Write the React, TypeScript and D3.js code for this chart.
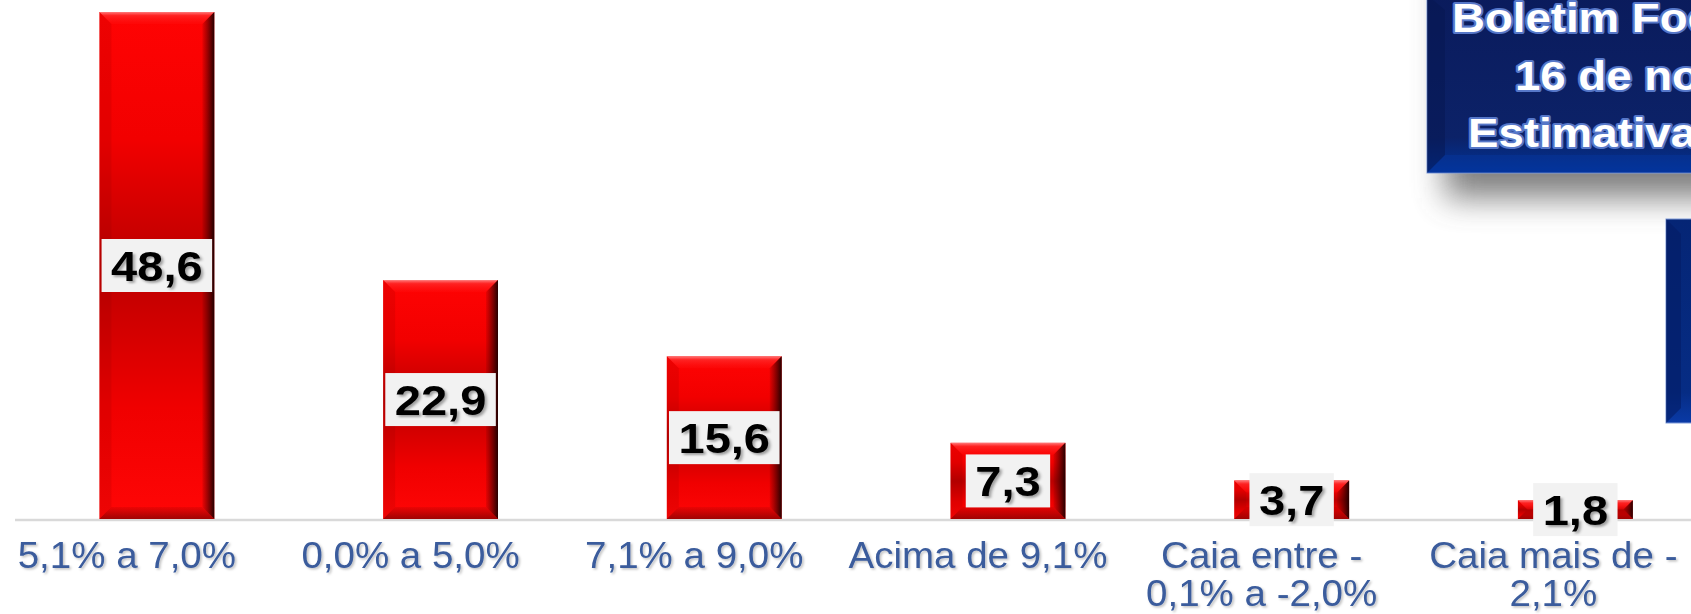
import React from 'react';
import * as d3 from 'd3';

// dados
const categorias = ['5,1% a 7,0%', '0,0% a 5,0%', '7,1% a 9,0%', 'Acima de 9,1%', 'Caia entre -0,1% a -2,0%', 'Caia mais de -2,1%'];
const rotulos = [['5,1% a 7,0%'], ['0,0% a 5,0%'], ['7,1% a 9,0%'], ['Acima de 9,1%'], ['Caia entre -', '0,1% a -2,0%'], ['Caia mais de -', '2,1%']];
const valores = [48.6, 22.9, 15.6, 7.3, 3.7, 1.8];
const tituloLinhas = ['Boletim Focus', '16 de novembro', 'Estimativa 2012'];

const W = 1691;
const H = 614;
const FONT = '"Liberation Sans", Arial, sans-serif';
const ESTICA = 1.12; // o texto original está alargado na horizontal

const fmt = (v: number) => v.toFixed(1).replace('.', ',');

// largura aproximada de texto em Arial bold
const larguraTexto = (s: string, fs: number) =>
    s.split('').reduce((acc, c) => acc + (c === ',' ? 0.278 : 0.556), 0) * fs;

const App: React.FC = () => {
    const base = 519;
    const x = d3.scaleBand<string>()
        .domain(categorias)
        .range([15, 15 + 6 * 283.7])
        .paddingInner(0.595)
        .paddingOuter(0.2975);
    const y = d3.scaleLinear().domain([0, 48.6]).range([base, 12]);
    const bw = x.bandwidth();

    return (
        <svg width={W} height={H} style={{ position: 'absolute', left: 0, top: 0, display: 'block', background: '#fff' }}>
            <defs>
                <linearGradient id="barra" x1="0" y1="0" x2="0" y2="1">
                    <stop offset="0" stopColor="#ff0303" />
                    <stop offset="0.25" stopColor="#f20000" />
                    <stop offset="0.5" stopColor="#bb0000" />
                    <stop offset="0.78" stopColor="#f00000" />
                    <stop offset="1" stopColor="#ff0606" />
                </linearGradient>
                <linearGradient id="bevTopo" x1="0" y1="0" x2="0" y2="1">
                    <stop offset="0" stopColor="#ff8a8a" stopOpacity="0.9" />
                    <stop offset="0.3" stopColor="#ff3030" stopOpacity="0.7" />
                    <stop offset="1" stopColor="#ff1010" stopOpacity="0.3" />
                </linearGradient>
                <linearGradient id="bevDir" x1="0" y1="0" x2="1" y2="0">
                    <stop offset="0" stopColor="#400000" stopOpacity="0.1" />
                    <stop offset="1" stopColor="#1a0000" stopOpacity="0.95" />
                </linearGradient>
                <linearGradient id="bevBaixo" x1="0" y1="0" x2="0" y2="1">
                    <stop offset="0" stopColor="#600000" stopOpacity="0.1" />
                    <stop offset="1" stopColor="#600000" stopOpacity="0.6" />
                </linearGradient>
                <linearGradient id="caixa" x1="0" y1="0" x2="0" y2="1">
                    <stop offset="0" stopColor="#0a1b5c" />
                    <stop offset="0.8" stopColor="#0c2268" />
                    <stop offset="1" stopColor="#003399" />
                </linearGradient>
                <linearGradient id="caixa2" x1="0" y1="0" x2="0" y2="1">
                    <stop offset="0" stopColor="#052575" />
                    <stop offset="0.85" stopColor="#062c84" />
                    <stop offset="1" stopColor="#0a3aa6" />
                </linearGradient>
                <filter id="sombraCaixa" x="-30%" y="-30%" width="160%" height="160%">
                    <feGaussianBlur stdDeviation="16" />
                </filter>
                <filter id="sombraNum" x="-20%" y="-20%" width="140%" height="140%">
                    <feDropShadow dx="2" dy="2" stdDeviation="1.2" floodColor="#000" floodOpacity="0.35" />
                </filter>
                <filter id="sombraCat" x="-10%" y="-20%" width="120%" height="140%">
                    <feDropShadow dx="1.5" dy="1.5" stdDeviation="1" floodColor="#000" floodOpacity="0.25" />
                </filter>
            </defs>

            {/* eixo */}
            <line x1={15} x2={W} y1={base + 1} y2={base + 1} stroke="#d9d9d9" strokeWidth={2.5} />

            {/* barras */}
            {valores.map((v, i) => {
                const bx = x(categorias[i]) as number;
                const by = y(v);
                const h = base - by;
                const b = Math.min(12, h / 2, bw / 2);
                const mid = by + h / 2;
                const txt = fmt(v);
                const boxW = larguraTexto(txt, 42) * ESTICA + 19;
                const boxH = 53;
                return (
                    <g key={categorias[i]}>
                        <rect x={bx} y={by} width={bw} height={h} fill="url(#barra)" />
                        <polygon points={`${bx},${by} ${bx + bw},${by} ${bx + bw - b},${by + b} ${bx + b},${by + b}`} fill="url(#bevTopo)" />
                        <polygon points={`${bx + bw},${by} ${bx + bw},${by + h} ${bx + bw - b},${by + h - b} ${bx + bw - b},${by + b}`} fill="url(#bevDir)" />
                        <polygon points={`${bx},${by + h} ${bx + bw},${by + h} ${bx + bw - b},${by + h - b} ${bx + b},${by + h - b}`} fill="url(#bevBaixo)" />
                        <polygon points={`${bx},${by} ${bx + b},${by + b} ${bx + b},${by + h - b} ${bx},${by + h}`} fill="#700000" opacity={0.12} />
                        <rect x={bx + bw / 2 - boxW / 2} y={mid - boxH / 2} width={boxW} height={boxH} fill="#f2f2f2" />
                        <text
                            transform={`translate(${bx + bw / 2},${mid + 15}) scale(${ESTICA},1)`}
                            textAnchor="middle"
                            fontFamily={FONT}
                            fontWeight="bold"
                            fontSize={42}
                            fill="#000"
                            filter="url(#sombraNum)"
                        >
                            {txt}
                        </text>
                    </g>
                );
            })}

            {/* rótulos das categorias */}
            {rotulos.map((linhas, i) => {
                const cx = (x(categorias[i]) as number) + bw / 2 - (i === 5 ? 22 : 30);
                return (
                    <g key={i} transform={`translate(${cx},0) scale(1.07,1)`}>
                        <text
                            textAnchor="middle"
                            fontFamily={FONT}
                            fontSize={36}
                            fill="#3a5b9c"
                            filter="url(#sombraCat)"
                        >
                            {linhas.map((l, j) => (
                                <tspan key={j} x={0} y={568 + j * 38}>{l}</tspan>
                            ))}
                        </text>
                    </g>
                );
            })}

            {/* caixa do título */}
            <rect x={1445} y={-30} width={320} height={228} fill="#555" opacity={0.75} filter="url(#sombraCaixa)" />
            <rect x={1666} y={219} width={60} height={204} fill="url(#caixa2)" stroke="#7f9ad8" strokeWidth={1} />
            <polygon points="1666,219 1681,234 1681,408 1666,423" fill="#041d66" opacity={0.6} />
            <rect x={1427} y={-5} width={300} height={178} fill="url(#caixa)" stroke="#7f9ad8" strokeWidth={1} />
            <polygon points="1427,-5 1445,10 1445,155 1427,173" fill="#06164f" opacity={0.5} />
            <polygon points="1427,173 1445,155 1700,155 1700,173" fill="#0a3aa6" opacity={0.35} />
            {tituloLinhas.map((l, i) => (
                <text
                    key={l}
                    transform={`translate(${[1452, 1515, 1468][i]},${32 + i * 57.5}) scale(1.14,1)`}
                    fontFamily={FONT}
                    fontWeight="bold"
                    fontSize={40}
                    fill="#fff"
                    stroke="#5677c8"
                    strokeWidth={4}
                    paintOrder="stroke"
                    strokeLinejoin="round"
                >
                    {l}
                </text>
            ))}
        </svg>
    );
};

export default App;
